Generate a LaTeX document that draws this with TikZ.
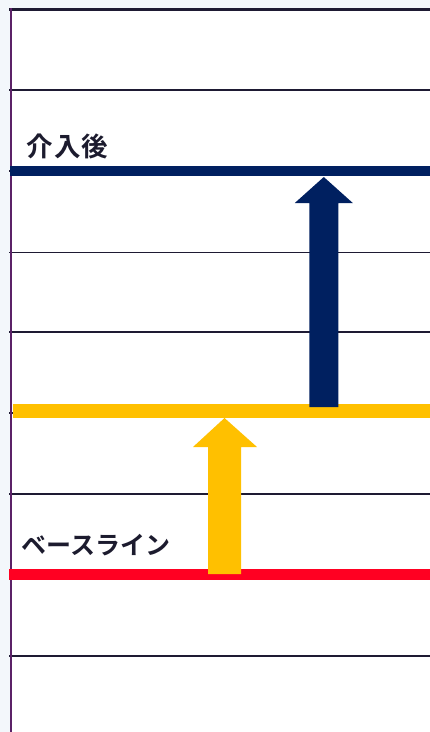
\documentclass[tikz,border=0pt]{standalone}
\usepackage{fontspec}
\newfontfamily\cjk{Noto Sans CJK JP}[BoldFont={Noto Sans CJK JP Bold}]
\usetikzlibrary{arrows.meta}
\definecolor{bgout}{HTML}{F3F7FB}
\definecolor{gridc}{HTML}{1E1A33}
\definecolor{framel}{HTML}{5B2167}
\definecolor{navyc}{HTML}{002060}
\definecolor{yellowc}{HTML}{FFC000}
\definecolor{redc}{HTML}{FF0022}
\definecolor{txtc}{HTML}{1C1B2E}
\tikzset{
  gridline/.style={draw=gridc, line width=1.6pt},
  levelline/.style={line width=#1},
  lbl/.style={anchor=west, inner sep=0pt, text=txtc, font=\cjk\bfseries\fontsize{25pt}{25pt}\selectfont},
  lblbig/.style={lbl, font=\cjk\bfseries\fontsize{26.5pt}{26.5pt}\selectfont},
}
\begin{document}
\begin{tikzpicture}[x=1pt,y=-1pt]
\useasboundingbox (0,0) rectangle (430,732);
\fill[bgout] (0,0) rectangle (430,732);
\fill[white] (10,9) rectangle (430,732);
% grid lines
\foreach \yy in {90,171,252.5,332,413,494,575,656}
  \draw[gridline] (9,\yy) -- (430,\yy);
% top border
\draw[gridc, line width=2.4pt] (9,9.6) -- (430,9.6);
% left border
\draw[framel, line width=2.4pt] (10.7,8.4) -- (10.7,732);
% level lines
\coordinate (rA) at (9,574.5);   \coordinate (rB) at (430,574.5);
\coordinate (yA) at (13,410.8);  \coordinate (yB) at (430,410.8);
\coordinate (nA) at (10,171.2);  \coordinate (nB) at (430,171.2);
\draw[redc, levelline=11pt] (rA) -- (rB);
\draw[yellowc, levelline=13.5pt] (yA) -- (yB);
\draw[navyc, levelline=9.5pt] (nA) -- (nB);
% yellow arrow
\coordinate (ya0) at (224.5,574);
\coordinate (ya1) at (224.5,418);
\fill[yellowc] ([xshift=-16.5pt]ya0) -- ([xshift=-16.5pt,yshift=-29pt]ya1) -- ([xshift=-31.5pt,yshift=-29pt]ya1)
  -- (ya1) -- ([xshift=32.5pt,yshift=-29pt]ya1) -- ([xshift=16.5pt,yshift=-29pt]ya1) -- ([xshift=16.5pt]ya0) -- cycle;
% navy arrow
\coordinate (na0) at (323.8,407);
\coordinate (na1) at (323.8,177);
\fill[navyc] ([xshift=-14.5pt]na0) -- ([xshift=-14.5pt,yshift=-26pt]na1) -- ([xshift=-29pt,yshift=-26pt]na1)
  -- (na1) -- ([xshift=29pt,yshift=-26pt]na1) -- ([xshift=14.5pt,yshift=-26pt]na1) -- ([xshift=14.5pt]na0) -- cycle;
% labels
\node[lblbig] (after) at (26.5,146) {介\hspace{1pt}入\hspace{1pt}後};
\node[lbl] (base) at (21.5,545) {ベースライン};
\end{tikzpicture}
\end{document}
